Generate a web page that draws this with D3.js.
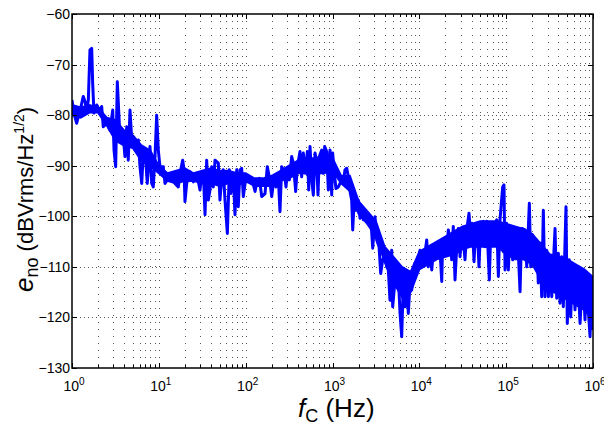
<!DOCTYPE html>
<html>
<head>
<meta charset="utf-8">
<script src="https://cdn.jsdelivr.net/npm/d3@7"></script>
<style>
  body { margin: 0; background: #fff; }
  text { font-family: "Liberation Sans", Arial, sans-serif; fill: #000; }
</style>
</head>
<body>
<svg id="chart" width="604" height="425"></svg>
<script>
// trace: frequency of each point, as log10(Hz)
var log10Hz = [
  0.000, 0.017, 0.054, 0.073, 0.104, 0.130, 0.150, 0.169, 0.188, 0.207, 0.227, 0.238, 0.253, 0.284, 0.314, 0.342,
  0.360, 0.400, 0.438, 0.469, 0.484, 0.503, 0.522, 0.541, 0.553, 0.584, 0.610, 0.630, 0.648, 0.668, 0.688, 0.706,
  0.737, 0.764, 0.783, 0.803, 0.821, 0.841, 0.867, 0.898, 0.918, 0.936, 0.956, 0.975, 0.994, 1.013, 1.051, 1.071,
  1.098, 1.129, 1.160, 1.186, 1.224, 1.244, 1.275, 1.290, 1.301, 1.321, 1.359, 1.397, 1.436, 1.474, 1.494, 1.512,
  1.532, 1.551, 1.570, 1.589, 1.609, 1.627, 1.647, 1.685, 1.704, 1.724, 1.742, 1.762, 1.789, 1.812, 1.828, 1.858,
  1.877, 1.897, 1.915, 1.935, 1.954, 1.973, 2.004, 2.030, 2.070, 2.108, 2.134, 2.157, 2.185, 2.223, 2.249, 2.272,
  2.300, 2.326, 2.349, 2.376, 2.395, 2.415, 2.442, 2.465, 2.480, 2.503, 2.530, 2.549, 2.576, 2.595, 2.626, 2.645,
  2.664, 2.691, 2.710, 2.726, 2.741, 2.761, 2.779, 2.799, 2.818, 2.833, 2.848, 2.876, 2.894, 2.910, 2.933, 2.952,
  2.971, 2.991, 3.002, 3.017, 3.040, 3.067, 3.095, 3.106, 3.125, 3.144, 3.164, 3.182, 3.202, 3.221, 3.233, 3.248,
  3.271, 3.297, 3.317, 3.336, 3.355, 3.386, 3.412, 3.440, 3.463, 3.490, 3.509, 3.536, 3.555, 3.578, 3.605, 3.624,
  3.643, 3.662, 3.682, 3.693, 3.720, 3.740, 3.758, 3.778, 3.797, 3.816, 3.835, 3.855, 3.873, 3.893, 3.912, 3.931,
  3.950, 3.970, 3.988, 4.008, 4.027, 4.046, 4.065, 4.085, 4.103, 4.123, 4.143, 4.161, 4.192, 4.219, 4.238, 4.258,
  4.269, 4.296, 4.315, 4.334, 4.353, 4.373, 4.391, 4.411, 4.431, 4.449, 4.469, 4.488, 4.507, 4.526, 4.546, 4.572,
  4.592, 4.610, 4.630, 4.649, 4.668, 4.687, 4.707, 4.737, 4.756, 4.776, 4.806, 4.825, 4.852, 4.872, 4.891, 4.910,
  4.929, 4.960, 4.975, 4.987, 5.006, 5.025, 5.044, 5.075, 5.102, 5.128, 5.160, 5.179, 5.217, 5.237, 5.267, 5.283,
  5.306, 5.332, 5.352, 5.370, 5.390, 5.409, 5.428, 5.447, 5.467, 5.486, 5.505, 5.525, 5.563, 5.582, 5.601, 5.620,
  5.640, 5.658, 5.689, 5.704, 5.727, 5.743, 5.766, 5.793, 5.819, 5.851, 5.882, 5.908, 5.928, 5.946, 5.966, 5.985,
  6.000
];
// trace: output noise density, dBVrms/Hz^1/2
var noiseDb = [
  -77.0, -79.3, -81.6, -80.3, -78.3, -76.3, -77.3, -79.3, -77.0, -67.1, -66.8, -73.7, -79.6, -78.0, -79.0, -78.3,
  -82.3, -81.6, -83.0, -79.0, -86.9, -90.2, -73.4, -80.3, -84.9, -83.0, -88.2, -82.3, -88.9, -79.0, -84.9, -84.3,
  -86.2, -84.9, -90.2, -93.5, -87.5, -86.9, -93.5, -86.2, -93.5, -94.2, -88.2, -80.0, -86.9, -90.2, -90.2, -93.5,
  -92.8, -91.6, -92.8, -93.5, -94.2, -91.5, -88.9, -90.8, -97.1, -93.5, -91.2, -93.2, -91.5, -94.8, -91.5, -91.2,
  -99.7, -88.9, -96.8, -94.8, -90.2, -94.2, -88.9, -89.5, -96.8, -92.5, -90.8, -96.8, -103.4, -90.8, -95.5, -92.2,
  -99.7, -90.8, -98.1, -90.8, -90.5, -96.1, -92.2, -93.2, -92.5, -95.1, -92.8, -92.5, -96.1, -95.5, -90.2, -92.2,
  -96.1, -92.5, -94.2, -92.2, -99.1, -90.2, -91.0, -94.2, -90.8, -92.8, -88.2, -89.5, -95.1, -90.2, -87.2, -92.2,
  -87.5, -91.5, -87.2, -94.8, -86.2, -92.8, -95.8, -87.5, -89.5, -95.8, -88.2, -86.9, -91.5, -86.2, -87.2, -94.8,
  -86.9, -95.8, -87.5, -90.8, -94.5, -94.2, -93.2, -92.2, -93.2, -90.8, -90.5, -92.2, -95.1, -96.8, -102.7, -97.4,
  -98.8, -96.8, -100.4, -98.1, -100.7, -100.1, -101.4, -100.1, -106.3, -100.1, -104.7, -106.0, -111.3, -108.6, -107.3, -110.0,
  -110.6, -116.6, -106.7, -117.9, -112.6, -110.0, -111.9, -119.2, -123.8, -112.6, -117.9, -112.6, -119.2, -113.2, -114.6, -111.3,
  -109.3, -111.3, -108.6, -106.7, -110.0, -108.6, -107.3, -104.7, -110.0, -106.7, -110.6, -107.0, -106.0, -105.0, -106.7, -112.9,
  -104.7, -106.0, -107.3, -102.7, -105.3, -108.6, -102.0, -112.6, -106.0, -102.4, -108.0, -102.7, -104.7, -108.6, -102.7, -99.4,
  -104.0, -101.4, -109.0, -102.0, -102.7, -110.0, -101.4, -101.0, -106.0, -101.0, -112.6, -101.4, -104.7, -101.4, -100.7, -111.9,
  -100.7, -94.2, -93.8, -110.6, -101.4, -110.6, -102.0, -108.6, -102.4, -102.7, -114.9, -102.4, -102.7, -110.0, -97.4, -110.0,
  -103.7, -110.0, -104.7, -113.2, -105.3, -115.9, -98.8, -115.9, -106.7, -115.9, -108.0, -115.9, -102.4, -116.2, -107.3, -117.2,
  -108.0, -117.9, -98.1, -121.2, -108.6, -119.9, -109.3, -118.5, -110.0, -121.2, -110.6, -120.5, -111.9, -118.5, -123.8, -112.6,
  -122.5
];
// dense core of the spectrum: upper and lower edge, read every 0.1 decade
var bandLog10Hz = [
  0.0, 0.1, 0.2, 0.3, 0.4, 0.5, 0.6, 0.7, 0.8, 0.9, 1.0, 1.1, 1.2, 1.3, 1.4, 1.5, 1.6, 1.7, 1.8, 1.9,
  2.0, 2.1, 2.2, 2.3, 2.4, 2.5, 2.6, 2.7, 2.8, 2.9, 3.0, 3.1, 3.2, 3.3, 3.4, 3.5, 3.6, 3.7, 3.8, 3.9,
  4.0, 4.1, 4.2, 4.3, 4.4, 4.5, 4.6, 4.7, 4.8, 4.9, 5.0, 5.1, 5.2, 5.3, 5.4, 5.5, 5.6, 5.7, 5.8, 5.9, 6.0
];
var bandUpperDb = [
  -78, -78.5, -78, -78.5, -80.5, -81, -83, -84, -86, -87, -90, -91.5, -91, -90.5, -91.5, -91, -90.5, -91, -91, -91.5,
  -91.5, -92.5, -92.5, -92, -91, -90, -89, -88.5, -88.5, -88, -88.5, -92, -92, -97, -99, -101, -106, -108, -110, -111,
  -107, -106, -105, -104, -103, -102, -101.5, -101, -101, -101, -101.5, -102, -102.5, -103.5, -105.5, -107.5, -108, -108.5, -109.5, -110.5, -112
];
var bandLowerDb = [
  -80, -80.5, -79.5, -79.5, -82, -85, -86, -86.5, -89, -90, -91.5, -93, -93.5, -93, -93, -93.5, -93.5, -94, -93.5, -94,
  -93, -94, -94, -94, -93, -92.5, -91.5, -91.5, -91.5, -91.5, -91, -93.5, -95, -99.5, -101.5, -104, -109, -113, -116, -115,
  -110.5, -109.5, -108.5, -108, -107.5, -106.5, -106, -106, -106, -106, -107.5, -108.5, -108.5, -109.5, -112.5, -114.5, -115.5, -116.5, -117.5, -118.5, -120.5
];
var xTickExponents = [0, 1, 2, 3, 4, 5, 6];
var yTickValues = [-130, -120, -110, -100, -90, -80, -70, -60];

var svg = d3.select('#chart');
// plot box edges (avoid the name "top", it is window.top)
var boxL = 72, boxR = 593, boxT = 14, boxB = 368;

var x = d3.scaleLog().domain([1, 1e6]).range([boxL, boxR]);
var y = d3.scaleLinear().domain([-130, -60]).range([boxB, boxT]);

// minor log positions 2..9 in every decade
var minorTicks = [];
for (var d = 0; d < 6; d++) {
  for (var k = 2; k <= 9; k++) minorTicks.push(k * Math.pow(10, d));
}
var majorTicks = xTickExponents.map(function (e) { return Math.pow(10, e); });

// dotted grid
var grid = svg.append('g');
grid.selectAll('line.v')
  .data(minorTicks.concat(majorTicks.slice(1, -1)))
  .enter().append('line')
  .attr('x1', function (v) { return Math.round(x(v)) + 0.5; })
  .attr('x2', function (v) { return Math.round(x(v)) + 0.5; })
  .attr('y1', boxT).attr('y2', boxB)
  .attr('stroke', '#555').attr('stroke-width', 1)
  .attr('stroke-dasharray', '1,6');
grid.selectAll('line.h')
  .data(yTickValues.slice(1, -1))
  .enter().append('line')
  .attr('x1', boxL).attr('x2', boxR)
  .attr('y1', function (v) { return Math.round(y(v)) + 0.5; })
  .attr('y2', function (v) { return Math.round(y(v)) + 0.5; })
  .attr('stroke', '#555').attr('stroke-width', 1)
  .attr('stroke-dasharray', '1,3');

// clip the trace to the plot box
svg.append('clipPath').attr('id', 'plotclip')
  .append('rect').attr('x', boxL).attr('y', boxT)
  .attr('width', boxR - boxL).attr('height', boxB - boxT);

var plot = svg.append('g').attr('clip-path', 'url(#plotclip)');

var band = bandLog10Hz.map(function (e, i) {
  return { f: Math.pow(10, e), hi: bandUpperDb[i], lo: bandLowerDb[i] };
});
var area = d3.area()
  .x(function (p) { return x(p.f); })
  .y0(function (p) { return y(p.lo); })
  .y1(function (p) { return y(p.hi); });

plot.append('path')
  .datum(band)
  .attr('d', area)
  .attr('fill', '#0000ff')
  .attr('stroke', '#0000ff')
  .attr('stroke-width', 2);

var points = log10Hz.map(function (e, i) { return [Math.pow(10, e), noiseDb[i]]; });
var line = d3.line()
  .x(function (p) { return x(p[0]); })
  .y(function (p) { return y(p[1]); });

plot.append('path')
  .datum(points)
  .attr('d', line)
  .attr('fill', 'none')
  .attr('stroke', '#0000ff')
  .attr('stroke-width', 3)
  .attr('stroke-linejoin', 'round');

// ticks, inside the box on all four sides
var ticks = svg.append('g').attr('stroke', '#000').attr('stroke-width', 1);
majorTicks.forEach(function (v) {
  var px = Math.round(x(v)) + 0.5;
  ticks.append('line').attr('x1', px).attr('x2', px).attr('y1', boxB).attr('y2', boxB - 5);
  ticks.append('line').attr('x1', px).attr('x2', px).attr('y1', boxT).attr('y2', boxT + 5);
});
minorTicks.forEach(function (v) {
  var px = Math.round(x(v)) + 0.5;
  ticks.append('line').attr('x1', px).attr('x2', px).attr('y1', boxB).attr('y2', boxB - 3);
  ticks.append('line').attr('x1', px).attr('x2', px).attr('y1', boxT).attr('y2', boxT + 3);
});
yTickValues.forEach(function (v) {
  var py = Math.round(y(v)) + 0.5;
  ticks.append('line').attr('x1', boxL).attr('x2', boxL + 5).attr('y1', py).attr('y2', py);
  ticks.append('line').attr('x1', boxR).attr('x2', boxR - 5).attr('y1', py).attr('y2', py);
});

// box
svg.append('rect')
  .attr('x', boxL).attr('y', boxT)
  .attr('width', boxR - boxL).attr('height', boxB - boxT)
  .attr('fill', 'none').attr('stroke', '#000').attr('stroke-width', 1.5);

// y tick labels
svg.selectAll('text.ylab')
  .data(yTickValues)
  .enter().append('text')
  .attr('class', 'ylab')
  .attr('x', boxL - 2)
  .attr('y', function (v) { return y(v) + 5; })
  .attr('text-anchor', 'end')
  .style('font-size', '14px')
  .text(function (v) { return '\u2212' + Math.abs(v); });

// x tick labels 10^n
xTickExponents.forEach(function (e) {
  var t = svg.append('text')
    .attr('x', x(Math.pow(10, e)) + 2)
    .attr('y', 391)
    .attr('text-anchor', 'middle')
    .style('font-size', '14px');
  t.append('tspan').text('10');
  t.append('tspan').attr('dy', -6).style('font-size', '10px').text(e);
});

// x axis title
var xt = svg.append('text')
  .attr('x', 298).attr('y', 417)
  .style('font-size', '26px');
xt.append('tspan').style('font-style', 'italic').text('f');
xt.append('tspan').attr('dy', 5).style('font-size', '18px').text('C');
xt.append('tspan').attr('dy', -5).text(' (Hz)');

// y axis title
var yt = svg.append('text')
  .attr('transform', 'translate(33,292) rotate(-90)')
  .style('font-size', '26px');
yt.append('tspan').style('font-style', 'italic').text('e');
yt.append('tspan').attr('dy', 5).style('font-size', '18px').text('no');
yt.append('tspan').attr('dy', -5).style('font-size', '22px').text(' (dBVrms/Hz');
yt.append('tspan').attr('dy', -9).style('font-size', '14px').text('1/2');
yt.append('tspan').attr('dy', 9).style('font-size', '22px').text(')');
</script>
</body>
</html>
